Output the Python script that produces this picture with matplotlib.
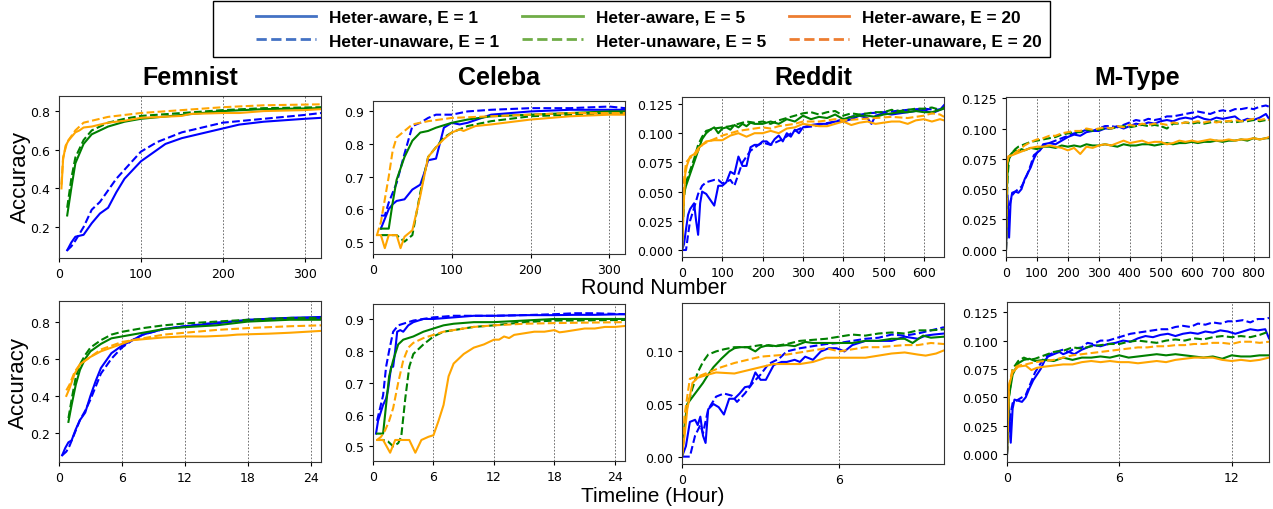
import matplotlib
matplotlib.use("Agg")
import matplotlib.pyplot as plt
from matplotlib.lines import Line2D
from matplotlib.patches import Rectangle

# ---------------- data: top row, x = round number ----------------
# Femnist
fem_r_a1_x = [10, 15, 20, 25, 30, 40, 50, 60, 70, 80, 100, 120, 130, 150, 200, 220, 250, 300, 320]
fem_r_a1_y = [0.08, 0.12, 0.15, 0.155, 0.16, 0.22, 0.27, 0.30, 0.38, 0.45, 0.54, 0.60, 0.63, 0.66, 0.71, 0.73, 0.745, 0.76, 0.765]
fem_r_u1_x = [10, 15, 20, 30, 40, 50, 70, 100, 120, 150, 170, 200, 250, 300, 320]
fem_r_u1_y = [0.08, 0.10, 0.13, 0.20, 0.29, 0.33, 0.45, 0.59, 0.64, 0.69, 0.71, 0.74, 0.76, 0.78, 0.79]
fem_r_a5_x = [10, 15, 20, 30, 40, 50, 60, 80, 100, 150, 200, 250, 320]
fem_r_a5_y = [0.26, 0.40, 0.53, 0.63, 0.68, 0.70, 0.72, 0.745, 0.76, 0.78, 0.80, 0.81, 0.815]
fem_r_u5_x = [10, 15, 20, 30, 40, 50, 60, 80, 100, 150, 200, 250, 320]
fem_r_u5_y = [0.30, 0.45, 0.56, 0.65, 0.70, 0.72, 0.74, 0.76, 0.775, 0.79, 0.805, 0.815, 0.82]
fem_r_a20_x = [3, 5, 8, 12, 20, 25, 30, 40, 50, 60, 80, 100, 150, 160, 200, 220, 250, 300, 320]
fem_r_a20_y = [0.40, 0.55, 0.62, 0.65, 0.69, 0.70, 0.715, 0.72, 0.73, 0.74, 0.75, 0.765, 0.775, 0.785, 0.79, 0.79, 0.80, 0.805, 0.81]
fem_r_u20_x = [3, 5, 10, 20, 30, 40, 60, 100, 150, 200, 250, 320]
fem_r_u20_y = [0.42, 0.56, 0.64, 0.70, 0.74, 0.75, 0.77, 0.79, 0.805, 0.82, 0.83, 0.835]

# Celeba
cel_r_a1_x = [10, 15, 20, 25, 30, 40, 50, 60, 65, 70, 80, 90, 100, 110, 120, 150, 200, 250, 300, 320]
cel_r_a1_y = [0.54, 0.57, 0.60, 0.615, 0.625, 0.63, 0.66, 0.675, 0.71, 0.75, 0.755, 0.85, 0.865, 0.86, 0.865, 0.89, 0.90, 0.905, 0.905, 0.905]
cel_r_u1_x = [10, 15, 20, 30, 40, 50, 60, 70, 80, 100, 120, 150, 200, 250, 300, 320]
cel_r_u1_y = [0.58, 0.58, 0.62, 0.68, 0.77, 0.855, 0.865, 0.88, 0.89, 0.89, 0.90, 0.905, 0.91, 0.91, 0.915, 0.91]
cel_r_a5_x = [10, 20, 25, 30, 40, 50, 60, 70, 80, 100, 120, 150, 200, 250, 300, 320]
cel_r_a5_y = [0.54, 0.54, 0.62, 0.69, 0.76, 0.81, 0.835, 0.84, 0.85, 0.865, 0.875, 0.885, 0.89, 0.895, 0.90, 0.90]
cel_r_u5_x = [10, 20, 30, 40, 50, 60, 70, 80, 90, 100, 120, 150, 200, 250, 320]
cel_r_u5_y = [0.52, 0.52, 0.52, 0.50, 0.52, 0.65, 0.76, 0.79, 0.82, 0.835, 0.855, 0.87, 0.885, 0.89, 0.895]
cel_r_a20_x = [5, 10, 15, 20, 25, 30, 35, 40, 50, 60, 70, 80, 90, 100, 110, 115, 130, 150, 200, 250, 300, 320]
cel_r_a20_y = [0.52, 0.52, 0.48, 0.52, 0.52, 0.52, 0.48, 0.515, 0.535, 0.64, 0.76, 0.79, 0.815, 0.835, 0.845, 0.84, 0.855, 0.86, 0.875, 0.885, 0.89, 0.89]
cel_r_u20_x = [5, 10, 20, 25, 30, 40, 50, 70, 100, 150, 200, 250, 320]
cel_r_u20_y = [0.52, 0.56, 0.70, 0.78, 0.82, 0.84, 0.86, 0.87, 0.88, 0.885, 0.89, 0.895, 0.895]

# Reddit
red_r_a1_x = [0, 5, 10, 15, 20, 30, 35, 40, 45, 50, 60, 70, 80, 90, 100, 110, 120, 130, 140, 150, 160, 170, 180, 190, 200,
              210, 220, 230, 240, 250, 260, 270, 280, 290, 300, 320, 340, 360, 380, 400, 420, 440, 460, 470, 480, 500,
              520, 540, 560, 580, 600, 620, 640, 650]
red_r_a1_y = [0.0, 0.005, 0.018, 0.03, 0.035, 0.04, 0.025, 0.013, 0.04, 0.05, 0.048, 0.043, 0.038, 0.055, 0.055, 0.058,
              0.067, 0.065, 0.08, 0.072, 0.072, 0.088, 0.09, 0.09, 0.093, 0.093, 0.09, 0.095, 0.098, 0.093, 0.10, 0.097,
              0.103, 0.10, 0.105, 0.107, 0.108, 0.108, 0.11, 0.11, 0.112, 0.115, 0.113, 0.108, 0.115, 0.117, 0.116,
              0.117, 0.118, 0.119, 0.12, 0.117, 0.12, 0.124]
red_r_u1_x = [0, 10, 15, 20, 30, 40, 50, 60, 80, 90, 100, 120, 130, 150, 170, 190, 200, 220, 250, 280, 300, 330, 350,
              380, 400, 430, 460, 500, 530, 560, 600, 630, 650]
red_r_u1_y = [0.0, 0.0, 0.013, 0.025, 0.036, 0.048, 0.055, 0.058, 0.06, 0.06, 0.057, 0.06, 0.055, 0.075, 0.085, 0.09,
              0.092, 0.09, 0.095, 0.102, 0.105, 0.106, 0.108, 0.11, 0.112, 0.115, 0.117, 0.118, 0.119, 0.12, 0.121, 0.12, 0.121]
red_r_a5_x = [0, 5, 10, 20, 30, 40, 50, 60, 70, 80, 90, 100, 110, 120, 130, 140, 150, 160, 170, 180, 200, 220, 240, 260,
              280, 300, 320, 340, 360, 380, 400, 420, 440, 460, 480, 500, 520, 540, 560, 580, 600, 620, 640, 650]
red_r_a5_y = [0.0, 0.05, 0.055, 0.065, 0.075, 0.085, 0.095, 0.10, 0.103, 0.105, 0.10, 0.104, 0.105, 0.103, 0.107, 0.105,
              0.108, 0.106, 0.109, 0.108, 0.108, 0.11, 0.108, 0.112, 0.11, 0.115, 0.112, 0.114, 0.113, 0.116, 0.112,
              0.114, 0.115, 0.115, 0.114, 0.116, 0.117, 0.118, 0.118, 0.119, 0.118, 0.118, 0.12, 0.122]
red_r_u5_x = [0, 5, 10, 20, 30, 40, 50, 60, 80, 100, 120, 140, 160, 180, 200, 220, 240, 260, 280, 300, 320, 340, 360,
              380, 400, 420, 440, 460, 480, 500, 520, 540, 560, 580, 600, 620, 640, 650]
red_r_u5_y = [0.0, 0.045, 0.058, 0.068, 0.078, 0.09, 0.097, 0.102, 0.104, 0.105, 0.106, 0.108, 0.11, 0.109, 0.11, 0.108,
              0.111, 0.113, 0.115, 0.117, 0.118, 0.116, 0.118, 0.119, 0.115, 0.117, 0.116, 0.117, 0.118, 0.118, 0.12,
              0.119, 0.12, 0.121, 0.121, 0.122, 0.12, 0.121]
red_r_a20_x = [0, 3, 8, 12, 20, 30, 40, 50, 60, 80, 100, 120, 140, 160, 180, 200, 220, 240, 260, 280, 300, 320, 340, 360,
               380, 400, 420, 440, 460, 480, 500, 520, 540, 560, 580, 600, 620, 640, 650]
red_r_a20_y = [0.0, 0.03, 0.065, 0.072, 0.08, 0.082, 0.087, 0.09, 0.093, 0.094, 0.094, 0.098, 0.10, 0.097, 0.10, 0.10,
               0.102, 0.10, 0.104, 0.105, 0.108, 0.107, 0.106, 0.106, 0.108, 0.11, 0.107, 0.109, 0.11, 0.108, 0.109,
               0.11, 0.11, 0.108, 0.111, 0.112, 0.11, 0.112, 0.111]
red_r_u20_x = [0, 5, 10, 20, 30, 40, 50, 60, 80, 100, 120, 140, 160, 180, 200, 220, 240, 260, 280, 300, 340, 380, 400,
               440, 480, 520, 560, 600, 620, 640, 650]
red_r_u20_y = [0.0, 0.06, 0.075, 0.079, 0.08, 0.085, 0.09, 0.092, 0.095, 0.098, 0.10, 0.102, 0.103, 0.104, 0.105, 0.104,
               0.106, 0.107, 0.108, 0.11, 0.11, 0.112, 0.111, 0.112, 0.113, 0.114, 0.113, 0.115, 0.117, 0.116, 0.114]

# M-Type
mt_r_a1_x = [0, 5, 10, 15, 20, 30, 40, 50, 60, 70, 80, 90, 100, 110, 120, 140, 160, 180, 200, 220, 240, 260, 280, 300,
             320, 340, 360, 380, 400, 420, 440, 460, 480, 500, 520, 540, 560, 580, 600, 620, 640, 660, 680, 700, 720,
             740, 760, 780, 800, 820, 840, 850]
mt_r_a1_y = [0.0, 0.045, 0.01, 0.04, 0.047, 0.048, 0.047, 0.05, 0.058, 0.063, 0.068, 0.075, 0.08, 0.082, 0.087, 0.088,
             0.087, 0.09, 0.093, 0.095, 0.094, 0.097, 0.098, 0.098, 0.10, 0.10, 0.102, 0.10, 0.102, 0.104, 0.103, 0.105,
             0.104, 0.106, 0.107, 0.106, 0.108, 0.109, 0.108, 0.11, 0.108, 0.107, 0.109, 0.108, 0.109, 0.11, 0.106,
             0.108, 0.107, 0.109, 0.112, 0.108]
mt_r_u1_x = [0, 5, 10, 20, 30, 50, 60, 70, 80, 90, 100, 120, 140, 160, 180, 200, 220, 240, 260, 280, 300, 320, 340, 360,
             380, 400, 420, 440, 460, 480, 500, 520, 540, 560, 580, 600, 620, 640, 660, 680, 700, 720, 740, 760, 780,
             800, 820, 840, 850]
mt_r_u1_y = [0.0, 0.03, 0.035, 0.045, 0.048, 0.052, 0.057, 0.063, 0.07, 0.078, 0.08, 0.085, 0.088, 0.09, 0.092, 0.094,
             0.096, 0.097, 0.099, 0.098, 0.10, 0.102, 0.102, 0.101, 0.103, 0.105, 0.107, 0.106, 0.108, 0.107, 0.108,
             0.11, 0.11, 0.111, 0.112, 0.113, 0.114, 0.113, 0.112, 0.114, 0.115, 0.114, 0.116, 0.116, 0.117, 0.116,
             0.118, 0.119, 0.118]
mt_r_a5_x = [0, 3, 6, 10, 20, 30, 40, 50, 60, 80, 100, 120, 140, 160, 180, 200, 220, 240, 260, 280, 300, 320, 340, 360,
             380, 400, 420, 440, 460, 480, 500, 520, 540, 560, 580, 600, 620, 640, 660, 680, 700, 720, 740, 760, 780,
             800, 820, 840, 850]
mt_r_a5_y = [0.0, 0.05, 0.07, 0.077, 0.08, 0.082, 0.081, 0.083, 0.082, 0.084, 0.083, 0.085, 0.085, 0.084, 0.086, 0.085,
             0.086, 0.085, 0.087, 0.086, 0.086, 0.087, 0.086, 0.085, 0.087, 0.086, 0.086, 0.087, 0.087, 0.086, 0.087,
             0.088, 0.087, 0.088, 0.088, 0.089, 0.088, 0.089, 0.089, 0.09, 0.089, 0.09, 0.09, 0.091, 0.09, 0.092,
             0.091, 0.092, 0.092]
mt_r_u5_x = [0, 5, 10, 20, 30, 40, 60, 80, 100, 120, 140, 160, 180, 200, 220, 240, 260, 280, 300, 320, 340, 360, 380,
             400, 420, 440, 460, 480, 500, 520, 540, 560, 580, 600, 620, 640, 660, 680, 700, 720, 740, 760, 780, 800,
             820, 840, 850]
mt_r_u5_y = [0.0, 0.06, 0.075, 0.08, 0.083, 0.085, 0.087, 0.089, 0.09, 0.091, 0.092, 0.093, 0.095, 0.096, 0.097, 0.097,
             0.099, 0.098, 0.099, 0.10, 0.10, 0.101, 0.102, 0.101, 0.102, 0.103, 0.102, 0.103, 0.102, 0.10, 0.104,
             0.104, 0.105, 0.104, 0.105, 0.104, 0.105, 0.106, 0.105, 0.106, 0.105, 0.106, 0.106, 0.107, 0.106, 0.107, 0.107]
mt_r_a20_x = [0, 3, 8, 20, 40, 60, 80, 100, 120, 140, 160, 180, 200, 220, 240, 260, 280, 300, 320, 340, 360, 380, 400,
              420, 440, 460, 480, 500, 520, 540, 560, 580, 600, 620, 640, 660, 680, 700, 720, 740, 760, 780, 800, 820,
              840, 850]
mt_r_a20_y = [0.0, 0.07, 0.077, 0.078, 0.08, 0.082, 0.084, 0.085, 0.085, 0.086, 0.085, 0.084, 0.082, 0.084, 0.079, 0.085,
              0.084, 0.086, 0.087, 0.086, 0.088, 0.09, 0.088, 0.089, 0.09, 0.088, 0.089, 0.089, 0.087, 0.088, 0.09,
              0.089, 0.09, 0.089, 0.09, 0.091, 0.09, 0.09, 0.091, 0.09, 0.091, 0.091, 0.092, 0.091, 0.092, 0.093]
mt_r_u20_x = [0, 3, 8, 20, 40, 60, 80, 100, 120, 140, 160, 180, 200, 220, 240, 260, 280, 300, 320, 340, 360, 380, 400,
              420, 440, 460, 480, 500, 520, 540, 560, 580, 600, 620, 640, 660, 680, 700, 720, 740, 760, 780, 800, 820,
              840, 850]
mt_r_u20_y = [0.0, 0.07, 0.077, 0.078, 0.082, 0.086, 0.089, 0.091, 0.092, 0.094, 0.094, 0.096, 0.097, 0.098, 0.098, 0.10,
              0.099, 0.10, 0.101, 0.10, 0.102, 0.101, 0.103, 0.102, 0.104, 0.103, 0.104, 0.104, 0.103, 0.105, 0.104,
              0.105, 0.105, 0.106, 0.105, 0.106, 0.105, 0.106, 0.106, 0.107, 0.106, 0.107, 0.108, 0.107, 0.108, 0.107]

# ---------------- data: bottom row, x = hours ----------------
fem_t_a1_x = [0.3, 0.6, 0.9, 1.2, 1.6, 2, 2.5, 3, 3.5, 4, 4.5, 5, 6, 7, 8, 10, 12, 15, 18, 20, 22, 25]
fem_t_a1_y = [0.08, 0.12, 0.15, 0.16, 0.22, 0.27, 0.31, 0.40, 0.48, 0.55, 0.59, 0.63, 0.67, 0.70, 0.73, 0.76, 0.775, 0.79, 0.81, 0.815, 0.82, 0.825]
fem_t_u1_x = [0.3, 0.7, 1.0, 1.5, 2, 2.5, 3, 3.5, 4, 5, 6, 7, 8, 10, 12, 15, 18, 20, 22, 25]
fem_t_u1_y = [0.08, 0.10, 0.13, 0.20, 0.27, 0.32, 0.38, 0.45, 0.52, 0.60, 0.66, 0.70, 0.73, 0.76, 0.775, 0.795, 0.805, 0.815, 0.82, 0.82]
fem_t_a5_x = [0.9, 1.2, 1.6, 2.0, 2.5, 3, 4, 5, 6, 8, 10, 12, 15, 18, 20, 22, 25]
fem_t_a5_y = [0.26, 0.35, 0.46, 0.54, 0.60, 0.64, 0.68, 0.71, 0.72, 0.74, 0.76, 0.77, 0.78, 0.80, 0.805, 0.81, 0.81]
fem_t_u5_x = [0.9, 1.2, 1.6, 2, 2.5, 3, 4, 5, 6, 8, 10, 12, 15, 18, 20, 22, 25]
fem_t_u5_y = [0.28, 0.38, 0.50, 0.57, 0.62, 0.66, 0.70, 0.73, 0.745, 0.765, 0.78, 0.79, 0.80, 0.81, 0.815, 0.82, 0.82]
fem_t_a20_x = [0.7, 1.0, 1.5, 2.0, 2.5, 3, 4, 5, 6, 7, 8, 10, 12, 14, 16, 17, 20, 22, 25]
fem_t_a20_y = [0.40, 0.44, 0.52, 0.57, 0.59, 0.61, 0.64, 0.66, 0.68, 0.70, 0.705, 0.715, 0.72, 0.72, 0.725, 0.73, 0.735, 0.74, 0.75]
fem_t_u20_x = [0.7, 1.0, 1.5, 2, 3, 4, 5, 6, 8, 10, 12, 15, 18, 20, 22, 25]
fem_t_u20_y = [0.43, 0.46, 0.53, 0.57, 0.61, 0.65, 0.67, 0.69, 0.71, 0.73, 0.74, 0.755, 0.765, 0.77, 0.775, 0.78]

cel_t_a1_x = [0.3, 0.5, 0.7, 1.0, 1.3, 1.5, 1.8, 2.0, 2.2, 2.4, 2.7, 3, 3.5, 4, 5, 6, 8, 10, 12, 15, 18, 20, 22, 25]
cel_t_a1_y = [0.54, 0.58, 0.60, 0.63, 0.65, 0.68, 0.75, 0.75, 0.80, 0.86, 0.865, 0.86, 0.88, 0.89, 0.90, 0.90, 0.905, 0.91, 0.91, 0.912, 0.912, 0.913, 0.913, 0.915]
cel_t_u1_x = [0.4, 0.7, 1.0, 1.3, 1.6, 2.0, 2.5, 3, 4, 5, 6, 8, 10, 12, 15, 18, 20, 22, 25]
cel_t_u1_y = [0.58, 0.62, 0.66, 0.75, 0.80, 0.86, 0.88, 0.885, 0.895, 0.90, 0.905, 0.91, 0.91, 0.91, 0.912, 0.915, 0.918, 0.918, 0.915]
cel_t_a5_x = [0.4, 0.8, 1.0, 1.3, 1.6, 2.0, 2.5, 3, 4, 5, 6, 7, 8, 10, 12, 15, 18, 20, 25]
cel_t_a5_y = [0.54, 0.54, 0.54, 0.63, 0.72, 0.77, 0.82, 0.835, 0.845, 0.86, 0.87, 0.88, 0.885, 0.89, 0.89, 0.895, 0.90, 0.90, 0.90]
cel_t_u5_x = [0.4, 1.0, 1.5, 2.0, 2.5, 2.8, 3.2, 3.6, 4, 5, 6, 7, 8, 10, 12, 15, 18, 20, 25]
cel_t_u5_y = [0.52, 0.52, 0.515, 0.50, 0.51, 0.53, 0.65, 0.75, 0.79, 0.82, 0.845, 0.86, 0.865, 0.875, 0.88, 0.89, 0.895, 0.895, 0.897]
cel_t_a20_x = [0.4, 1.0, 1.7, 2.2, 3, 3.6, 4.2, 4.8, 5.5, 6, 6.5, 7, 7.5, 8, 9, 10, 11, 12, 12.5, 13, 13.5, 14, 15, 16,
               17, 18, 18.5, 19, 20, 21, 22, 23, 24, 25]
cel_t_a20_y = [0.52, 0.52, 0.48, 0.52, 0.52, 0.52, 0.48, 0.52, 0.53, 0.535, 0.58, 0.63, 0.72, 0.76, 0.79, 0.81, 0.82,
               0.835, 0.835, 0.845, 0.84, 0.85, 0.855, 0.86, 0.86, 0.865, 0.858, 0.86, 0.865, 0.87, 0.87, 0.875, 0.875, 0.878]
cel_t_u20_x = [0.4, 0.8, 1.2, 1.6, 2.0, 2.5, 3, 3.5, 4, 5, 6, 7, 8, 10, 12, 15, 18, 20, 25]
cel_t_u20_y = [0.52, 0.53, 0.55, 0.58, 0.62, 0.70, 0.77, 0.81, 0.825, 0.84, 0.85, 0.86, 0.865, 0.875, 0.88, 0.885, 0.887, 0.888, 0.89]

red_t_a1_x = [0, 0.15, 0.3, 0.5, 0.6, 0.7, 0.8, 0.9, 1.0, 1.2, 1.4, 1.6, 1.8, 2.0, 2.2, 2.4, 2.6, 2.8, 3.0, 3.2, 3.5, 3.8,
              4.0, 4.3, 4.5, 4.7, 5.0, 5.3, 5.6, 5.9, 6.2, 6.5, 7, 7.5, 8, 8.5, 9, 9.3, 9.6, 10]
red_t_a1_y = [0.0, 0.01, 0.033, 0.035, 0.03, 0.038, 0.02, 0.013, 0.045, 0.05, 0.047, 0.04, 0.055, 0.055, 0.06, 0.066,
              0.067, 0.08, 0.073, 0.073, 0.087, 0.09, 0.09, 0.092, 0.09, 0.095, 0.092, 0.10, 0.103, 0.103, 0.10, 0.106,
              0.11, 0.11, 0.11, 0.114, 0.112, 0.115, 0.116, 0.117]
red_t_u1_x = [0, 0.3, 0.5, 0.7, 0.8, 1.0, 1.3, 1.6, 1.9, 2.1, 2.4, 2.7, 3.0, 3.3, 3.7, 4, 4.5, 5, 5.5, 6, 6.5, 7, 7.5, 8,
              8.5, 9, 9.5, 10]
red_t_u1_y = [0.0, 0.0, 0.02, 0.03, 0.022, 0.045, 0.057, 0.06, 0.058, 0.052, 0.06, 0.07, 0.078, 0.088, 0.093, 0.10,
              0.103, 0.105, 0.107, 0.108, 0.11, 0.112, 0.113, 0.116, 0.115, 0.117, 0.12, 0.123]
red_t_a5_x = [0, 0.1, 0.2, 0.5, 0.8, 1.0, 1.2, 1.5, 1.8, 2.0, 2.2, 2.5, 2.8, 3.0, 3.3, 3.6, 4, 4.3, 4.7, 5, 5.5, 6, 6.5,
              7, 7.5, 8, 8.5, 8.8, 9.2, 9.5, 10]
red_t_a5_y = [0.0, 0.03, 0.05, 0.06, 0.07, 0.078, 0.085, 0.093, 0.10, 0.103, 0.104, 0.104, 0.10, 0.104, 0.106, 0.105,
              0.106, 0.105, 0.109, 0.108, 0.108, 0.108, 0.108, 0.11, 0.11, 0.112, 0.112, 0.108, 0.115, 0.113, 0.114]
red_t_u5_x = [0, 0.1, 0.2, 0.4, 0.6, 0.8, 1.0, 1.3, 1.6, 2.0, 2.5, 3, 3.5, 4, 4.5, 5, 5.5, 6, 6.5, 7, 7.5, 8, 8.5, 9,
              9.5, 10]
red_t_u5_y = [0.0, 0.03, 0.048, 0.065, 0.08, 0.09, 0.097, 0.10, 0.102, 0.104, 0.104, 0.106, 0.105, 0.107, 0.11, 0.111,
              0.112, 0.114, 0.116, 0.115, 0.117, 0.118, 0.117, 0.12, 0.12, 0.121]
red_t_a20_x = [0, 0.1, 0.2, 0.4, 0.6, 1.0, 1.3, 2, 2.5, 3, 3.5, 4, 4.5, 5, 5.5, 6, 7, 7.5, 8, 8.5, 9, 9.3, 9.7, 10]
red_t_a20_y = [0.0, 0.02, 0.045, 0.07, 0.075, 0.078, 0.08, 0.079, 0.082, 0.085, 0.088, 0.088, 0.088, 0.09, 0.094, 0.094,
               0.094, 0.096, 0.098, 0.099, 0.097, 0.096, 0.098, 0.101]
red_t_u20_x = [0, 0.1, 0.3, 0.6, 1.0, 1.5, 2, 2.5, 3, 3.5, 4, 4.5, 5, 5.5, 6, 6.5, 7, 7.5, 8, 8.5, 9, 9.5, 10]
red_t_u20_y = [0.0, 0.04, 0.074, 0.076, 0.08, 0.085, 0.089, 0.092, 0.095, 0.096, 0.097, 0.099, 0.101, 0.103, 0.10,
               0.102, 0.104, 0.104, 0.105, 0.106, 0.106, 0.108, 0.107]

mt_t_a1_x = [0, 0.1, 0.2, 0.3, 0.4, 0.6, 0.8, 1.0, 1.2, 1.4, 1.6, 1.8, 2.0, 2.2, 2.5, 2.8, 3.0, 3.3, 3.6, 4.0, 4.3, 4.6,
             5.0, 5.4, 5.8, 6.2, 6.6, 7.0, 7.4, 7.8, 8.2, 8.6, 9.0, 9.4, 9.8, 10.2, 10.6, 11, 11.4, 11.8, 12.2, 12.6,
             13, 13.4, 13.8, 14]
mt_t_a1_y = [0.0, 0.045, 0.01, 0.04, 0.048, 0.047, 0.046, 0.05, 0.058, 0.065, 0.07, 0.075, 0.082, 0.086, 0.088, 0.09,
             0.088, 0.09, 0.088, 0.092, 0.094, 0.096, 0.095, 0.097, 0.098, 0.10, 0.099, 0.102, 0.104, 0.103, 0.105,
             0.106, 0.104, 0.106, 0.107, 0.106, 0.108, 0.107, 0.109, 0.108, 0.106, 0.108, 0.11, 0.109, 0.11, 0.102]
mt_t_u1_x = [0, 0.15, 0.3, 0.6, 1.0, 1.2, 1.5, 1.8, 2.0, 2.3, 2.6, 3.0, 3.3, 3.6, 4.0, 4.3, 4.6, 5.0, 5.4, 5.8, 6.2,
             6.6, 7.0, 7.4, 7.8, 8.2, 8.6, 9.0, 9.4, 9.8, 10.2, 10.6, 11, 11.4, 11.8, 12.2, 12.6, 13.0, 13.4, 13.8, 14]
mt_t_u1_y = [0.0, 0.03, 0.045, 0.048, 0.052, 0.06, 0.072, 0.08, 0.085, 0.088, 0.09, 0.092, 0.09, 0.093, 0.094, 0.098,
             0.097, 0.10, 0.10, 0.102, 0.104, 0.106, 0.107, 0.108, 0.109, 0.11, 0.11, 0.112, 0.113, 0.112, 0.115,
             0.114, 0.116, 0.115, 0.117, 0.117, 0.118, 0.116, 0.119, 0.119, 0.12]
mt_t_a5_x = [0, 0.1, 0.3, 0.6, 0.9, 1.2, 1.5, 2.0, 2.5, 3.0, 3.5, 4.0, 4.5, 5, 5.5, 6, 6.5, 7, 7.5, 8, 8.5, 9, 9.5, 10,
             10.5, 11, 11.5, 12, 12.5, 13, 13.5, 14]
mt_t_a5_y = [0.0, 0.05, 0.07, 0.08, 0.083, 0.084, 0.082, 0.083, 0.082, 0.085, 0.083, 0.085, 0.085, 0.086, 0.085, 0.087,
             0.085, 0.086, 0.087, 0.088, 0.087, 0.088, 0.087, 0.086, 0.085, 0.086, 0.084, 0.087, 0.086, 0.086, 0.087, 0.087]
mt_t_u5_x = [0, 0.1, 0.3, 0.6, 0.9, 1.2, 1.5, 2.0, 2.5, 3.0, 3.5, 4.0, 4.5, 5, 5.5, 6, 6.5, 7, 7.5, 8, 8.5, 9, 9.5, 10,
             10.5, 11, 11.5, 12, 12.5, 13, 13.5, 14]
mt_t_u5_y = [0.0, 0.05, 0.075, 0.082, 0.085, 0.083, 0.084, 0.087, 0.09, 0.091, 0.094, 0.093, 0.095, 0.096, 0.097, 0.097,
             0.099, 0.10, 0.099, 0.098, 0.10, 0.101, 0.10, 0.102, 0.101, 0.103, 0.104, 0.103, 0.104, 0.103, 0.105, 0.108]
mt_t_a20_x = [0, 0.1, 0.3, 0.6, 1.0, 1.3, 1.6, 2.0, 2.5, 3.0, 3.5, 4.0, 4.5, 5, 5.5, 6, 6.5, 7, 7.5, 8, 8.5, 9, 9.5, 10,
              10.5, 11, 11.5, 12, 12.5, 13, 13.5, 14]
mt_t_a20_y = [0.0, 0.06, 0.072, 0.077, 0.078, 0.074, 0.076, 0.077, 0.078, 0.079, 0.079, 0.081, 0.082, 0.081, 0.082,
              0.081, 0.081, 0.08, 0.081, 0.082, 0.081, 0.083, 0.084, 0.085, 0.085, 0.085, 0.083, 0.082, 0.083, 0.082, 0.083, 0.085]
mt_t_u20_x = [0, 0.1, 0.3, 0.6, 1.0, 1.5, 2.0, 2.5, 3.0, 3.5, 4.0, 4.5, 5, 5.5, 6, 6.5, 7, 7.5, 8, 8.5, 9, 9.5, 10,
              10.5, 11, 11.5, 12, 12.5, 13, 13.5, 14]
mt_t_u20_y = [0.0, 0.06, 0.075, 0.078, 0.079, 0.081, 0.082, 0.083, 0.085, 0.087, 0.088, 0.089, 0.09, 0.091, 0.092,
              0.093, 0.094, 0.094, 0.095, 0.095, 0.096, 0.096, 0.097, 0.097, 0.098, 0.098, 0.097, 0.099, 0.099, 0.098, 0.099]

titles = ["Femnist", "Celeba", "Reddit", "M-Type"]
legend_labels = ["Heter-aware, E = 1", "Heter-unaware, E = 1",
                 "Heter-aware, E = 5", "Heter-unaware, E = 5",
                 "Heter-aware, E = 20", "Heter-unaware, E = 20"]

# ---------------- drawing ----------------
W, H = 1273, 510
line_cols = ["blue", "green", "orange"]
leg_cols = ["#4472C4", "#70AD47", "#ED7D31"]


def px_box(l, t, r, b):
    return [l / W, 1 - b / H, (r - l) / W, (b - t) / H]


panels = [
    # (box, series, xlim, xticks, ylim, yticks, yfmt)
    ((59, 97, 321, 259),
     [(fem_r_a1_x, fem_r_a1_y), (fem_r_u1_x, fem_r_u1_y), (fem_r_a5_x, fem_r_a5_y),
      (fem_r_u5_x, fem_r_u5_y), (fem_r_a20_x, fem_r_a20_y), (fem_r_u20_x, fem_r_u20_y)],
     (0, 320), [0, 100, 200, 300], (0.04, 0.878), [0.2, 0.4, 0.6, 0.8], "%.1f"),
    ((373, 102, 625, 255),
     [(cel_r_a1_x, cel_r_a1_y), (cel_r_u1_x, cel_r_u1_y), (cel_r_a5_x, cel_r_a5_y),
      (cel_r_u5_x, cel_r_u5_y), (cel_r_a20_x, cel_r_a20_y), (cel_r_u20_x, cel_r_u20_y)],
     (0, 320), [0, 100, 200, 300], (0.462, 0.932), [0.5, 0.6, 0.7, 0.8, 0.9], "%.1f"),
    ((682, 98, 944, 258),
     [(red_r_a1_x, red_r_a1_y), (red_r_u1_x, red_r_u1_y), (red_r_a5_x, red_r_a5_y),
      (red_r_u5_x, red_r_u5_y), (red_r_a20_x, red_r_a20_y), (red_r_u20_x, red_r_u20_y)],
     (0, 650), list(range(0, 700, 100)), (-0.006, 0.131), [0, 0.025, 0.05, 0.075, 0.1, 0.125], "%.3f"),
    ((1006, 98, 1269, 258),
     [(mt_r_a1_x, mt_r_a1_y), (mt_r_u1_x, mt_r_u1_y), (mt_r_a5_x, mt_r_a5_y),
      (mt_r_u5_x, mt_r_u5_y), (mt_r_a20_x, mt_r_a20_y), (mt_r_u20_x, mt_r_u20_y)],
     (0, 850), list(range(0, 900, 100)), (-0.006, 0.126), [0, 0.025, 0.05, 0.075, 0.1, 0.125], "%.3f"),
    ((59, 302, 321, 463),
     [(fem_t_a1_x, fem_t_a1_y), (fem_t_u1_x, fem_t_u1_y), (fem_t_a5_x, fem_t_a5_y),
      (fem_t_u5_x, fem_t_u5_y), (fem_t_a20_x, fem_t_a20_y), (fem_t_u20_x, fem_t_u20_y)],
     (0, 25), [0, 6, 12, 18, 24], (0.044, 0.911), [0.2, 0.4, 0.6, 0.8], "%.1f"),
    ((373, 305, 625, 462),
     [(cel_t_a1_x, cel_t_a1_y), (cel_t_u1_x, cel_t_u1_y), (cel_t_a5_x, cel_t_a5_y),
      (cel_t_u5_x, cel_t_u5_y), (cel_t_a20_x, cel_t_a20_y), (cel_t_u20_x, cel_t_u20_y)],
     (0, 25), [0, 6, 12, 18, 24], (0.454, 0.947), [0.5, 0.6, 0.7, 0.8, 0.9], "%.1f"),
    ((682, 304, 944, 465),
     [(red_t_a1_x, red_t_a1_y), (red_t_u1_x, red_t_u1_y), (red_t_a5_x, red_t_a5_y),
      (red_t_u5_x, red_t_u5_y), (red_t_a20_x, red_t_a20_y), (red_t_u20_x, red_t_u20_y)],
     (0, 10), [0, 6], (-0.007, 0.146), [0, 0.05, 0.1], "%.2f"),
    ((1007, 303, 1269, 463),
     [(mt_t_a1_x, mt_t_a1_y), (mt_t_u1_x, mt_t_u1_y), (mt_t_a5_x, mt_t_a5_y),
      (mt_t_u5_x, mt_t_u5_y), (mt_t_a20_x, mt_t_a20_y), (mt_t_u20_x, mt_t_u20_y)],
     (0, 14), [0, 6, 12], (-0.007, 0.134), [0, 0.025, 0.05, 0.075, 0.1, 0.125], "%.3f"),
]

fig = plt.figure(figsize=(W / 100, H / 100), dpi=100)
sans = "Liberation Sans"

for n, (box, series, xlim, xticks, ylim, yticks, yfmt) in enumerate(panels):
    ax = fig.add_axes(px_box(*box))
    for k, (xs, ys) in enumerate(series):
        ls = "-" if k % 2 == 0 else "--"
        ax.plot(xs, ys, color=line_cols[k // 2], linestyle=ls, linewidth=1.5)
    ax.set_xlim(*xlim)
    ax.set_ylim(*ylim)
    ax.set_xticks(xticks)
    ax.set_yticks(yticks)
    ax.yaxis.set_major_formatter(matplotlib.ticker.FormatStrFormatter(yfmt))
    ax.tick_params(labelsize=9, length=3, width=0.8)
    for x in xticks[1:]:
        ax.axvline(x, linestyle=(0, (2, 2)), color="0.35", linewidth=0.6, zorder=0)
    for s in ax.spines.values():
        s.set_color("0.2")
    if n < 4:
        cx = (box[0] + box[2]) / 2
        fig.text(cx / W, 1 - 78 / H, titles[n], ha="center", va="center",
                 fontsize=18, fontweight="bold", family=sans)

# y labels
fig.text(20 / W, 1 - 177 / H, "Accuracy", rotation=90, ha="center", va="center", fontsize=16, family=sans)
fig.text(18 / W, 1 - 383 / H, "Accuracy", rotation=90, ha="center", va="center", fontsize=16, family=sans)

fig.text(654 / W, 1 - 288 / H, "Round Number", ha="center", va="center", fontsize=15.5, family=sans)
fig.text(653 / W, 1 - 497 / H, "Timeline (Hour)", ha="center", va="center", fontsize=15, family=sans)

# legend with its own frame
fig.patches.append(Rectangle((213 / W, 1 - 58 / H), (1050 - 213) / W, 56 / H, transform=fig.transFigure,
                             fill=False, edgecolor="black", linewidth=1.0))
handles = [Line2D([], [], color=leg_cols[k // 2], linestyle="-" if k % 2 == 0 else "--", linewidth=2)
           for k in range(6)]
fig.legend(handles, legend_labels, ncol=3, loc="center", bbox_to_anchor=(649 / W, 1 - 30 / H),
           prop={"family": sans, "weight": "bold", "size": 12.4}, frameon=False,
           handlelength=3.5, handletextpad=0.75, columnspacing=1.35,
           labelspacing=0.5, borderpad=0.2)

fig.savefig("out.png", dpi=100)
